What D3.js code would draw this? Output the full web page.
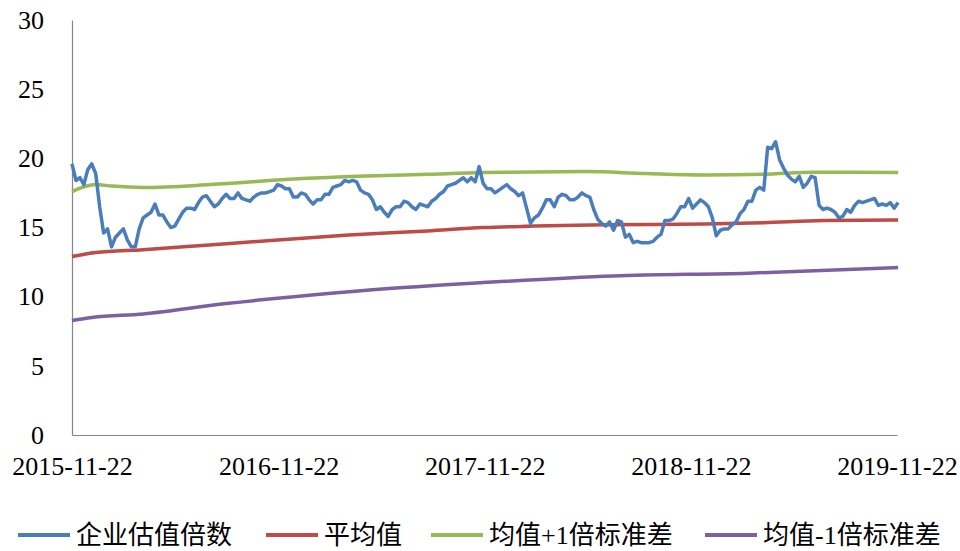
<!DOCTYPE html>
<html>
<head>
<meta charset="utf-8">
<script src="https://cdn.jsdelivr.net/npm/d3@7"></script>
<style>
  body { margin: 0; background: #fff; }
  svg text { font-family: "Liberation Serif", "Noto Sans CJK SC", serif; fill: #000; }
</style>
</head>
<body>
<div class="canvas"></div>
<script>
// data (weeks counted from 2015-11-22)
const startDay = "2015-11-22";
const xTickLabels = ["2015-11-22", "2016-11-22", "2017-11-22", "2018-11-22", "2019-11-22"];
const yTicks = [0, 5, 10, 15, 20, 25, 30];
const seriesNames = ["企业估值倍数", "平均值", "均值+1倍标准差", "均值-1倍标准差"];

// 企业估值倍数 [week, value]
const valuation = [
  [0, 19.6], [1, 18.4], [2, 18.6], [3, 18.1], [4, 19.2], [5, 19.6], [6, 18.9], [7, 16.5],
  [8, 14.6], [9, 14.9], [10, 13.6], [11, 14.3], [12, 14.6], [13, 14.9], [14, 14.1], [15, 13.6],
  [16, 13.6], [17, 14.9], [18, 15.7], [19, 15.9], [20, 16.1], [21, 16.7], [22, 15.9], [23, 15.9],
  [24, 15.4], [25, 15.0], [26, 15.1], [27, 15.6], [28, 16.1], [29, 16.4], [30, 16.4], [31, 16.3],
  [32, 16.8], [33, 17.2], [34, 17.3], [35, 16.9], [36, 16.5], [37, 16.7], [38, 17.1], [39, 17.4],
  [40, 17.1], [41, 17.1], [42, 17.5], [43, 17.1], [44, 17.0], [45, 16.9], [46, 17.2], [47, 17.4],
  [48, 17.5], [49, 17.5], [50, 17.6], [51, 17.7], [52, 18.1], [53, 18.0], [54, 17.8], [55, 17.8],
  [56, 17.2], [57, 17.2], [58, 17.5], [59, 17.4], [60, 17.0], [61, 16.7], [62, 17.0], [63, 17.0],
  [64, 17.4], [65, 17.4], [66, 17.9], [67, 18.0], [68, 18.1], [69, 18.4], [70, 18.3], [71, 18.4],
  [72, 18.3], [73, 17.7], [74, 17.5], [75, 17.4], [76, 17.0], [77, 16.3], [78, 16.5], [79, 16.1],
  [80, 15.8], [81, 16.3], [82, 16.5], [83, 16.5], [84, 16.9], [85, 16.8], [86, 16.5], [87, 16.3],
  [88, 16.7], [89, 16.6], [90, 16.5], [91, 16.9], [92, 17.1], [93, 17.4], [94, 17.6], [95, 18.0],
  [96, 18.1], [97, 18.2], [98, 18.4], [99, 18.6], [100, 18.3], [101, 18.6], [102, 18.3], [103, 19.4],
  [104, 18.2], [105, 17.8], [106, 17.8], [107, 17.5], [108, 17.7], [109, 17.9], [110, 18.1], [111, 17.8],
  [112, 17.6], [113, 17.3], [114, 17.5], [115, 16.4], [116, 15.3], [117, 15.7], [118, 15.9], [119, 16.4],
  [120, 17.0], [121, 17.0], [122, 16.5], [123, 17.2], [124, 17.4], [125, 17.3], [126, 17.0], [127, 17.0],
  [128, 17.2], [129, 17.5], [130, 17.3], [131, 17.2], [132, 16.3], [133, 15.6], [134, 15.3], [135, 15.1],
  [136, 15.4], [137, 14.8], [138, 15.5], [139, 15.4], [140, 14.3], [141, 14.5], [142, 13.9], [143, 14.0],
  [144, 13.9], [145, 13.9], [146, 13.9], [147, 14.0], [148, 14.3], [149, 14.5], [150, 15.5], [151, 15.5],
  [152, 15.6], [153, 16.0], [154, 16.5], [155, 16.5], [156, 17.1], [157, 16.4], [158, 16.7], [159, 17.0],
  [160, 16.8], [161, 16.5], [162, 15.7], [163, 14.4], [164, 14.8], [165, 14.9], [166, 14.9], [167, 15.2],
  [168, 15.4], [169, 16.0], [170, 16.3], [171, 16.9], [172, 16.9], [173, 17.7], [174, 17.9], [175, 17.7],
  [176, 20.8], [177, 20.7], [178, 21.2], [179, 19.9], [180, 19.3], [181, 18.8], [182, 18.5], [183, 18.3],
  [184, 18.7], [185, 17.9], [186, 18.2], [187, 18.7], [188, 18.6], [189, 16.6], [190, 16.3], [191, 16.4],
  [192, 16.3], [193, 16.1], [194, 15.7], [195, 15.8], [196, 16.3], [197, 16.1], [198, 16.6], [199, 16.9],
  [200, 16.8], [201, 16.9], [202, 17.0], [203, 17.1], [204, 16.6], [205, 16.7], [206, 16.6], [207, 16.8],
  [208, 16.4], [209, 16.8]
];

// 平均值
const meanLine = [
  [0, 12.9], [6, 13.2], [18, 13.4], [33, 13.7], [52, 14.1], [70, 14.45], [90, 14.75], [104, 15.0],
  [117, 15.1], [135, 15.2], [160, 15.25], [175, 15.35], [190, 15.5], [209, 15.55]
];

// 均值+1倍标准差
const upperLine = [
  [0, 17.6], [6, 18.1], [10, 18.0], [18, 17.9], [35, 18.1], [56, 18.5], [72, 18.7], [90, 18.85],
  [104, 18.97], [130, 19.04], [145, 18.9], [160, 18.8], [175, 18.85], [188, 19.0], [209, 18.97]
];

// 均值-1倍标准差
const lowerLine = [
  [0, 8.27], [5, 8.5], [18, 8.75], [39, 9.5], [60, 10.1], [81, 10.6], [103, 11.0], [137, 11.5],
  [171, 11.7], [209, 12.1]
];

const colors = ["#4A7EBB", "#BE4B48", "#98B954", "#7D60A0"];

// dimensions
const w = 960;
const h = 551;
const margin = { top: 20, right: 63, bottom: 116, left: 72 };

const svg = d3.select(".canvas").append("svg").attr("width", w).attr("height", h);

const parse = d3.timeParse("%Y-%m-%d");
const start = parse(startDay);
const toDate = (wk) => d3.timeDay.offset(start, wk * 7);
const xTickDates = xTickLabels.map(parse);

const x = d3.scaleTime()
  .domain([xTickDates[0], xTickDates[xTickDates.length - 1]])
  .range([margin.left, w - margin.right]);
const y = d3.scaleLinear().domain([0, 30]).range([h - margin.bottom, margin.top]);

// axes
const yAxis = svg.append("g")
  .attr("transform", `translate(${margin.left},0)`)
  .call(d3.axisLeft(y).tickValues(yTicks).tickSize(0).tickPadding(28));
const xAxis = svg.append("g")
  .attr("transform", `translate(0,${h - margin.bottom})`)
  .call(d3.axisBottom(x).tickValues(xTickDates).tickSize(0).tickPadding(22)
    .tickFormat(d3.timeFormat("%Y-%m-%d")));
[yAxis, xAxis].forEach((a) => {
  a.select(".domain").attr("stroke", "#868686").attr("stroke-width", 1.2);
  a.selectAll("text").style("font-size", "26px");
});

// lines
const line = d3.line().x((d) => x(toDate(d[0]))).y((d) => y(d[1]));
const smooth = d3.line().curve(d3.curveMonotoneX).x((d) => x(toDate(d[0]))).y((d) => y(d[1]));

[[lowerLine, 3], [meanLine, 1], [upperLine, 2]].forEach(([data, ci]) => {
  svg.append("path")
    .datum(data)
    .attr("fill", "none")
    .attr("stroke", colors[ci])
    .attr("stroke-width", 3.5)
    .attr("d", smooth);
});

svg.append("path")
  .datum(valuation)
  .attr("fill", "none")
  .attr("stroke", colors[0])
  .attr("stroke-width", 3.5)
  .attr("stroke-linejoin", "round")
  .attr("d", line);

// legend
const legendX = [18, 266, 431, 705];
const legend = svg.append("g").attr("transform", "translate(0,535)");
seriesNames.forEach((name, i) => {
  const item = legend.append("g").attr("transform", `translate(${legendX[i]},0)`);
  item.append("line")
    .attr("x1", 0).attr("x2", 52)
    .attr("stroke", colors[i])
    .attr("stroke-width", 4);
  item.append("text")
    .attr("x", 58)
    .attr("dy", "0.33em")
    .style("font-size", "26px")
    .text(name);
});
</script>
</body>
</html>
